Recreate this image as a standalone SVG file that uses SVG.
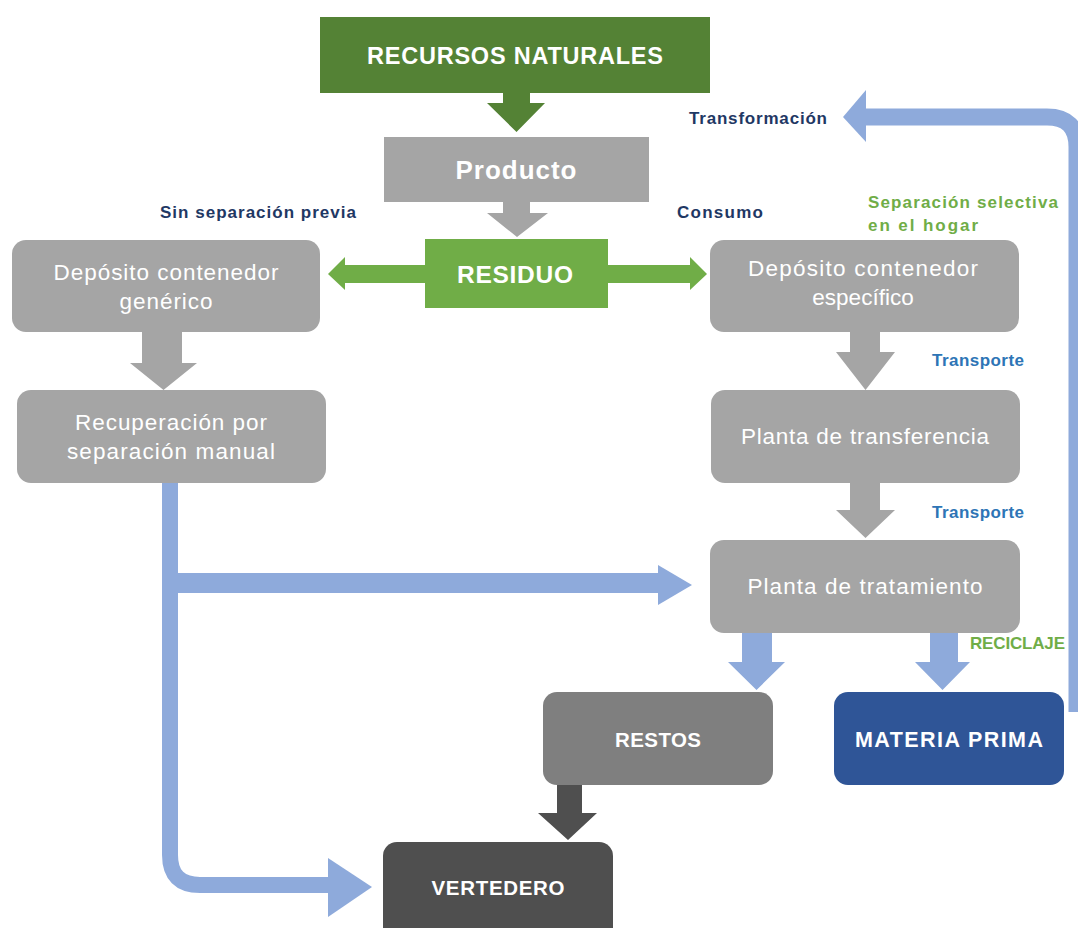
<svg xmlns="http://www.w3.org/2000/svg" width="1078" height="928" viewBox="0 0 1078 928">
<defs>
<style>
.nt{font-family:"Liberation Sans",Arial,sans-serif;fill:#ffffff;text-anchor:middle}
.b{font-weight:bold}
.r{font-size:22.5px}
.lbl{font-family:"Liberation Sans",Arial,sans-serif;font-weight:bold;font-size:17px}
.navy{fill:#1f3864}
.blu{fill:#2e75b6}
.grn{fill:#70ad47}
.blue-line{fill:none;stroke:#8eaadb}
.blue-fill{fill:#8eaadb}
</style>
</defs>
<rect width="1078" height="928" fill="#ffffff"/>

<g id="connectors">
  <!-- RECURSOS -> Producto -->
  <polygon points="503,93 530,93 530,103 545,103 516.5,132 487,103 503,103" fill="#548235"/>
  <!-- Producto -> RESIDUO -->
  <polygon points="503,202 530,202 530,213 548,213 517,237 487,213 503,213" fill="#a5a5a5"/>
  <!-- RESIDUO -> left -->
  <polygon points="425,265 345,265 345,257 328,274 345,290 345,283 425,283" fill="#70ad47"/>
  <!-- RESIDUO -> right -->
  <polygon points="608,265 690,265 690,257 707,274 690,290 690,283 608,283" fill="#70ad47"/>
  <!-- genérico -> Recuperación -->
  <polygon points="142,332 182,332 182,363 197,363 163.5,390 130,363 142,363" fill="#a5a5a5"/>
  <!-- específico -> transferencia -->
  <polygon points="850,332 880,332 880,352 895,352 865.5,390 836,352 850,352" fill="#a5a5a5"/>
  <!-- transferencia -> tratamiento -->
  <polygon points="850,483 880,483 880,510 895,510 865.5,538 836,510 850,510" fill="#a5a5a5"/>
  <!-- tratamiento -> RESTOS -->
  <polygon points="742,633 772,633 772,662 785,662 756.5,690 728,662 742,662" fill="#8eaadb"/>
  <!-- tratamiento -> MATERIA PRIMA -->
  <polygon points="930,633 958,633 958,662 970,662 942.5,690 915,662 930,662" fill="#8eaadb"/>
  <!-- RESTOS -> VERTEDERO -->
  <polygon points="557,785 582,785 582,813 597,813 568,840 538,813 557,813" fill="#4f4f4f"/>
  <!-- Recuperación -> tratamiento / VERTEDERO -->
  <path d="M170,483 V855 Q170,885 200,885 H332" class="blue-line" stroke-width="16"/>
  <path d="M170,583 H660" class="blue-line" stroke-width="20"/>
  <polygon points="658,565 692,585 658,605" class="blue-fill"/>
  <polygon points="328,858 372,887 328,917" class="blue-fill"/>
  <!-- MATERIA PRIMA -> Transformación loop -->
  <path d="M1077,712 V147 Q1077,117 1047,117 H862" class="blue-line" stroke-width="17"/>
  <polygon points="866,90 843,117 866,142" class="blue-fill"/>
</g>

<g id="recursos">
  <rect x="320" y="17" width="390" height="76" fill="#548235"/>
  <text x="515" y="64" class="nt b" font-size="23.5" textLength="296">RECURSOS NATURALES</text>
</g>
<g id="producto">
  <rect x="384" y="137" width="265" height="65" fill="#a5a5a5"/>
  <text x="516" y="179" class="nt b" font-size="26" textLength="121">Producto</text>
</g>
<g id="residuo">
  <rect x="425" y="239" width="183" height="69" fill="#70ad47"/>
  <text x="515" y="283" class="nt b" font-size="24.5" textLength="116">RESIDUO</text>
</g>
<g id="deposito-generico">
  <rect x="12" y="240" width="308" height="92" rx="14" fill="#a5a5a5"/>
  <text class="nt r" x="166" y="280" textLength="225">Depósito contenedor</text>
  <text class="nt r" x="166" y="309" textLength="93">genérico</text>
</g>
<g id="recuperacion">
  <rect x="17" y="390" width="309" height="93" rx="14" fill="#a5a5a5"/>
  <text class="nt r" x="171" y="430" textLength="192">Recuperación por</text>
  <text class="nt r" x="171" y="459" textLength="208">separación manual</text>
</g>
<g id="deposito-especifico">
  <rect x="710" y="240" width="309" height="92" rx="14" fill="#a5a5a5"/>
  <text class="nt r" x="863" y="276" textLength="230">Depósito contenedor</text>
  <text class="nt r" x="863" y="305">específico</text>
</g>
<g id="transferencia">
  <rect x="711" y="390" width="309" height="93" rx="14" fill="#a5a5a5"/>
  <text class="nt r" x="865" y="444" textLength="248">Planta de transferencia</text>
</g>
<g id="tratamiento">
  <rect x="710" y="540" width="310" height="93" rx="14" fill="#a5a5a5"/>
  <text class="nt r" x="865" y="594" textLength="235">Planta de tratamiento</text>
</g>
<g id="restos">
  <rect x="543" y="692" width="230" height="93" rx="14" fill="#7f7f7f"/>
  <text x="658" y="747" class="nt b" font-size="20.5" textLength="86">RESTOS</text>
</g>
<g id="materia-prima">
  <rect x="834" y="692" width="230" height="93" rx="14" fill="#2f5597"/>
  <text x="949" y="747" class="nt b" font-size="21.5" textLength="188">MATERIA PRIMA</text>
</g>
<g id="vertedero">
  <rect x="383" y="842" width="230" height="100" rx="14" fill="#4f4f4f"/>
  <text x="498" y="895" class="nt b" font-size="20.5" textLength="133">VERTEDERO</text>
</g>

<g id="labels">
  <text class="lbl navy" x="160" y="218" textLength="196">Sin separación previa</text>
  <text class="lbl navy" x="677" y="218" textLength="86">Consumo</text>
  <text class="lbl navy" x="689" y="124" textLength="138">Transformación</text>
  <text class="lbl grn" x="868" y="208" textLength="190">Separación selectiva</text>
  <text class="lbl grn" x="868" y="231" textLength="110">en el hogar</text>
  <text class="lbl blu" x="932" y="366" textLength="92">Transporte</text>
  <text class="lbl blu" x="932" y="518" textLength="92">Transporte</text>
  <text class="lbl grn" x="970" y="649" textLength="95">RECICLAJE</text>
</g>
</svg>
